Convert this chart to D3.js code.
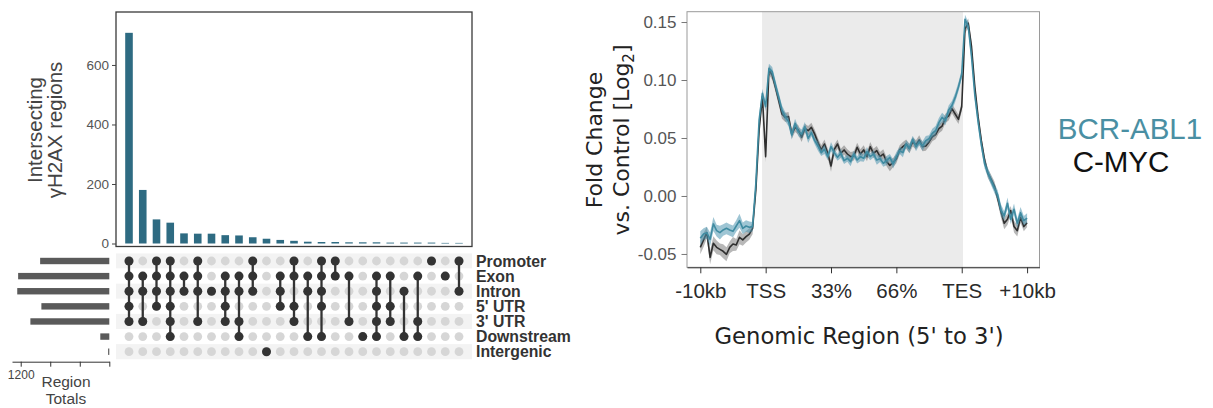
<!DOCTYPE html>
<html>
<head>
<meta charset="utf-8">
<script src="https://cdn.jsdelivr.net/npm/d3@7"></script>
<style>
  body { margin: 0; background: #fff; }
  svg { display: block; }
</style>
</head>
<body>
<svg id="chart" width="1213" height="408"></svg>
<script>
// ---------------- UpSet data ----------------
const setNames = ["Promoter", "Exon", "Intron", "5' UTR", "3' UTR", "Downstream", "Intergenic"];
const setTotals = [937, 1235, 1247, 920, 1069, 122, 16];
const intersectionSizes = [708, 180, 81, 70, 34, 33, 33, 28, 27, 21, 16, 12, 9, 6, 5, 5, 4, 4, 4, 3, 3, 3, 3, 2, 2];
// members of each intersection, as indices into setNames
const intersectionMembers = [
  [0,1,2,3,4], [1,2,4], [0,1,2,3], [0,1,2,3,4,5], [1,2], [0,1,2,4], [2], [1,2,3,4],
  [1,2,4,5], [0,1,2], [6], [1,2,3], [0,1,3,4], [1,2,5], [0,1,2,3,5], [0,1], [1,4],
  [5], [1,2,3,4,5], [1,3,4], [2,5], [1,4,5], [0], [1], [0,2]
];
const intersectionTicks = [0, 200, 400, 600];
const totalsTicks = [1200, 800, 400, 0];

// ---------------- metagene profile data ----------------
const profileTickBins = [0, 20, 40, 60, 80, 100];
const profileTickLabels = ["-10kb", "TSS", "33%", "66%", "TES", "+10kb"];
const geneBody = [18.9, 80.4];
const foldTicks = [-0.05, 0.00, 0.05, 0.10, 0.15];

const bcrAbl1 = [
  -0.0365,-0.0328,-0.0316,-0.0374,-0.0241,-0.0299,-0.0316,-0.0293,-0.0279,-0.0293,
  -0.0305,-0.0259,-0.0213,-0.0279,-0.0259,-0.0270,-0.0264,0.0109,0.0655,0.0885,
  0.0770,0.1101,0.1072,0.0957,0.0851,0.0741,0.0684,0.0641,0.0526,0.0626,
  0.0555,0.0534,0.0598,0.0497,0.0546,0.0477,0.0431,0.0374,0.0402,0.0339,
  0.0425,0.0374,0.0333,0.0368,0.0305,0.0325,0.0296,0.0362,0.0310,0.0339,
  0.0325,0.0382,0.0339,0.0362,0.0310,0.0322,0.0282,0.0305,0.0333,0.0276,
  0.0339,0.0391,0.0374,0.0448,0.0411,0.0489,0.0425,0.0466,0.0431,0.0477,
  0.0494,0.0540,0.0563,0.0632,0.0678,0.0649,0.0741,0.0780,0.0850,0.0940,
  0.1050,0.1523,0.1460,0.1201,0.0871,0.0641,0.0440,0.0276,0.0201,0.0132,
  0.0066,0.0009,-0.0121,-0.0172,-0.0063,-0.0201,-0.0115,-0.0236,-0.0144,-0.0213,
  -0.0190
];
const bcrAbl1Se = [
  0.006,0.005,0.005,0.006,0.006,0.005,0.006,0.005,0.005,0.005,
  0.005,0.005,0.006,0.005,0.005,0.005,0.004,0.004,0.004,0.004,
  0.004,0.004,0.004,0.004,0.004,0.004,0.004,0.004,0.004,0.004,
  0.004,0.004,0.004,0.004,0.003,0.003,0.004,0.003,0.004,0.003,
  0.004,0.003,0.003,0.004,0.003,0.003,0.004,0.003,0.003,0.004,
  0.003,0.004,0.003,0.003,0.004,0.003,0.003,0.004,0.003,0.004,
  0.004,0.003,0.004,0.003,0.004,0.003,0.004,0.003,0.004,0.004,
  0.003,0.004,0.004,0.004,0.004,0.004,0.004,0.004,0.004,0.004,
  0.004,0.004,0.004,0.004,0.004,0.004,0.004,0.004,0.004,0.004,
  0.004,0.004,0.005,0.004,0.005,0.004,0.005,0.004,0.005,0.004,
  0.004
];
const cMyc = [
  -0.0443,-0.0379,-0.0316,-0.0529,-0.0408,-0.0443,-0.0460,-0.0477,-0.0503,-0.0443,
  -0.0414,-0.0422,-0.0356,-0.0379,-0.0351,-0.0328,-0.0279,0.0052,0.0569,0.0856,
  0.0339,0.1086,0.1043,0.0937,0.0822,0.0707,0.0678,0.0684,0.0534,0.0592,
  0.0569,0.0506,0.0583,0.0563,0.0592,0.0534,0.0460,0.0397,0.0448,0.0368,
  0.0259,0.0402,0.0448,0.0368,0.0397,0.0362,0.0339,0.0345,0.0420,0.0362,
  0.0397,0.0339,0.0425,0.0368,0.0391,0.0339,0.0362,0.0296,0.0264,0.0287,
  0.0322,0.0397,0.0425,0.0448,0.0408,0.0466,0.0440,0.0483,0.0425,0.0431,
  0.0466,0.0511,0.0529,0.0580,0.0603,0.0670,0.0690,0.0753,0.0707,0.0661,
  0.0770,0.1440,0.1490,0.1287,0.0943,0.0684,0.0477,0.0310,0.0195,0.0144,
  0.0086,-0.0020,-0.0135,-0.0236,-0.0201,-0.0126,-0.0264,-0.0299,-0.0184,-0.0264,
  -0.0230
];
const cMycSe = [
  0.006,0.006,0.005,0.006,0.006,0.006,0.005,0.006,0.006,0.005,
  0.006,0.005,0.006,0.005,0.005,0.005,0.005,0.004,0.004,0.004,
  0.005,0.004,0.004,0.004,0.004,0.004,0.004,0.004,0.004,0.004,
  0.004,0.004,0.004,0.004,0.004,0.004,0.004,0.004,0.004,0.004,
  0.005,0.004,0.004,0.004,0.004,0.004,0.004,0.004,0.004,0.004,
  0.004,0.004,0.004,0.004,0.004,0.004,0.004,0.004,0.005,0.004,
  0.004,0.004,0.004,0.004,0.004,0.004,0.004,0.004,0.004,0.004,
  0.004,0.004,0.004,0.004,0.004,0.004,0.004,0.004,0.004,0.004,
  0.004,0.004,0.004,0.004,0.004,0.004,0.004,0.004,0.004,0.004,
  0.004,0.004,0.005,0.005,0.005,0.004,0.005,0.005,0.005,0.004,
  0.004
];
const seriesNames = ["BCR-ABL1", "C-MYC"];

const sans = "'Liberation Sans', Arial, Helvetica, sans-serif";
const dejavu = "'DejaVu Sans', Verdana, sans-serif";
const svg = d3.select("#chart");

// ================= UpSet plot =================
const upset = svg.append("g");
const colX = d3.scalePoint().domain(d3.range(intersectionSizes.length)).range([129, 459]);
const barY = d3.scaleLinear().domain([0, 778]).range([243.5, 12]);
const rowY = d3.scalePoint().domain(d3.range(setNames.length)).range([261, 351.7]);
const totalsX = d3.scaleLinear().domain([0, 1318]).range([109.3, 12]);

// alternating row stripes of the matrix
upset.append("g").selectAll("rect").data(setNames).join("rect")
  .attr("x", 116).attr("width", 356)
  .attr("y", (d, i) => rowY(i) - 7.6).attr("height", 15.2)
  .attr("fill", (d, i) => i % 2 === 0 ? "#f3f3f3" : "#ffffff");

// intersection size bars
upset.append("g").selectAll("rect").data(intersectionSizes).join("rect")
  .attr("x", (d, i) => colX(i) - 3.8).attr("width", 7.6)
  .attr("y", d => barY(d)).attr("height", d => barY(0) - barY(d))
  .attr("fill", "#2e6b82");

upset.append("rect")
  .attr("x", 116).attr("y", 12).attr("width", 356).attr("height", 234.5)
  .attr("fill", "none").attr("stroke", "#3a3a3a").attr("stroke-width", 1.3);

const yAx = upset.append("g").attr("transform", "translate(116,0)")
  .call(d3.axisLeft(barY).tickValues(intersectionTicks).tickSize(4).tickPadding(3));
yAx.select(".domain").remove();
yAx.selectAll("line").attr("stroke", "#444");
yAx.selectAll("text").attr("font-family", sans).attr("font-size", 13.5).attr("fill", "#555");

const yTitle = upset.append("text")
  .attr("transform", "translate(0,130) rotate(-90)")
  .attr("text-anchor", "middle")
  .attr("font-family", sans).attr("font-size", 20.5).attr("fill", "#444");
yTitle.append("tspan").attr("x", 0).attr("y", 41.5).text("Intersecting");
yTitle.append("tspan").attr("x", 0).attr("y", 61.5).text("\u03b3H2AX regions");

// matrix: grey background dots, connectors, then member dots
const cols = upset.append("g").selectAll("g").data(intersectionMembers).join("g");
cols.each(function (members, ci) {
  const g = d3.select(this);
  g.selectAll("circle.bg").data(d3.range(setNames.length)).join("circle")
    .attr("class", "bg")
    .attr("cx", colX(ci)).attr("cy", r => rowY(r)).attr("r", 4.4).attr("fill", "#d6d6d6");
  if (members.length > 1) {
    g.append("line")
      .attr("x1", colX(ci)).attr("x2", colX(ci))
      .attr("y1", rowY(d3.min(members))).attr("y2", rowY(d3.max(members)))
      .attr("stroke", "#333").attr("stroke-width", 2.3);
  }
  g.selectAll("circle.fg").data(members).join("circle")
    .attr("class", "fg")
    .attr("cx", colX(ci)).attr("cy", r => rowY(r)).attr("r", 4.5).attr("fill", "#333");
});

// set labels
upset.append("g").selectAll("text").data(setNames).join("text")
  .attr("x", 476).attr("y", (d, i) => rowY(i)).attr("dy", "0.36em")
  .attr("font-family", sans).attr("font-weight", "bold").attr("font-size", 15.8)
  .attr("fill", "#333").text(d => d);

// set totals
upset.append("g").selectAll("rect").data(setTotals).join("rect")
  .attr("x", d => totalsX(d)).attr("width", d => totalsX(0) - totalsX(d))
  .attr("y", (d, i) => rowY(i) - 3.2).attr("height", 6.4)
  .attr("fill", "#5a5a5a");

const tAx = upset.append("g").attr("transform", "translate(0,361.7)")
  .call(d3.axisBottom(totalsX).tickValues(totalsTicks).tickSize(5).tickSizeOuter(0)
    .tickPadding(4).tickFormat(d => d === 1200 ? "1200" : ""));
tAx.selectAll("line, path").attr("stroke", "#333");
tAx.selectAll("text").attr("font-family", sans).attr("font-size", 12).attr("fill", "#444");

upset.append("text").attr("x", 66).attr("y", 386.5).attr("text-anchor", "middle")
  .attr("font-family", sans).attr("font-size", 15.5).attr("fill", "#444").text("Region");
upset.append("text").attr("x", 66).attr("y", 404).attr("text-anchor", "middle")
  .attr("font-family", sans).attr("font-size", 15.5).attr("fill", "#444").text("Totals");

// ================= Metagene profile =================
const prof = svg.append("g");
const x = d3.scaleLinear().domain([-4.07, 103.8]).range([687, 1039.5]);
const y = d3.scaleLinear().domain([-0.0615, 0.1589]).range([267.3, 11.7]);

prof.append("rect")
  .attr("x", x(geneBody[0])).attr("width", x(geneBody[1]) - x(geneBody[0]))
  .attr("y", 11.7).attr("height", 267.3 - 11.7).attr("fill", "#ebebeb");

prof.append("rect")
  .attr("x", 687).attr("y", 11.7).attr("width", 1039.5 - 687).attr("height", 267.3 - 11.7)
  .attr("fill", "none").attr("stroke", "#9a9a9a").attr("stroke-width", 1);

const series = [
  { name: seriesNames[1], values: cMyc, se: cMycSe, line: "#2f2f2f", band: "rgba(85,85,85,0.42)" },
  { name: seriesNames[0], values: bcrAbl1, se: bcrAbl1Se, line: "#3f8ba1", band: "rgba(78,150,176,0.55)" }
];
series.forEach(s => {
  const pts = s.values.map((v, i) => ({ bin: i, v, se: s.se[i] }));
  prof.append("path").datum(pts)
    .attr("d", d3.area().x(d => x(d.bin)).y0(d => y(d.v - d.se)).y1(d => y(d.v + d.se)))
    .attr("fill", s.band);
  prof.append("path").datum(pts)
    .attr("d", d3.line().x(d => x(d.bin)).y(d => y(d.v)))
    .attr("fill", "none").attr("stroke", s.line).attr("stroke-width", 1.6)
    .attr("stroke-linejoin", "round");
});

const fy = prof.append("g").attr("transform", "translate(687,0)")
  .call(d3.axisLeft(y).tickValues(foldTicks).tickSize(5.5).tickPadding(5)
    .tickFormat(d => d.toFixed(2)));
fy.select(".domain").remove();
fy.selectAll("line").attr("stroke", "#777");
fy.selectAll("text").attr("font-family", sans).attr("font-size", 17).attr("fill", "#555");

const fx = prof.append("g").attr("transform", "translate(0,267.3)")
  .call(d3.axisBottom(x).tickValues(profileTickBins).tickSize(6).tickSizeOuter(0).tickPadding(10)
    .tickFormat((d, i) => profileTickLabels[i]));
fx.selectAll("line, path").attr("stroke", "#333");
fx.selectAll("text").attr("font-family", sans).attr("font-size", 20.5).attr("fill", "#2a2a2a");

prof.append("text").attr("x", 859).attr("y", 343.5).attr("text-anchor", "middle")
  .attr("font-family", dejavu).attr("font-size", 22.7).attr("fill", "#222")
  .text("Genomic Region (5' to 3')");

const fTitle = prof.append("text")
  .attr("transform", "translate(0,140) rotate(-90)")
  .attr("text-anchor", "middle")
  .attr("font-family", dejavu).attr("font-size", 22).attr("fill", "#222");
fTitle.append("tspan").attr("x", 0).attr("y", 601.5).text("Fold Change");
fTitle.append("tspan").attr("x", 0).attr("y", 629).text("vs. Control [Log");
fTitle.append("tspan").attr("dy", 5).attr("font-size", 15).text("2");
fTitle.append("tspan").attr("dy", -5).text("]");

// legend
prof.append("text").attr("x", 1130).attr("y", 139).attr("text-anchor", "middle")
  .attr("font-family", sans).attr("font-size", 29.5).attr("fill", "#4a8fa3").text(seriesNames[0]);
prof.append("text").attr("x", 1121).attr("y", 172).attr("text-anchor", "middle")
  .attr("font-family", sans).attr("font-size", 29.5).attr("fill", "#111").text(seriesNames[1]);
</script>
</body>
</html>
